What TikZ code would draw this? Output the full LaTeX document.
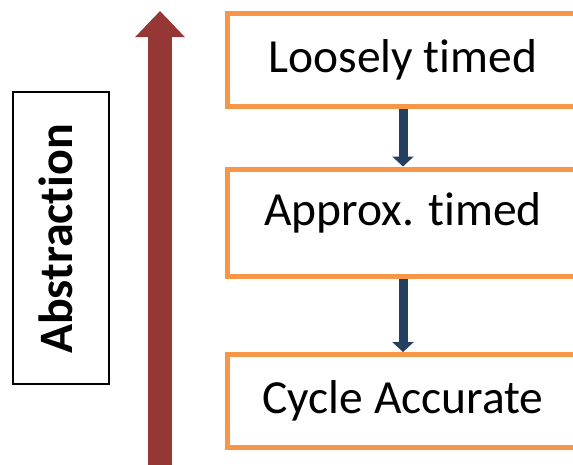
\documentclass[tikz,border=0pt]{standalone}
\usepackage{fontspec}
\setmainfont{Carlito}[Ligatures=NoCommon]
\usetikzlibrary{arrows.meta}

\definecolor{boxorange}{HTML}{F79646}
\definecolor{arrowred}{HTML}{953735}
\definecolor{arrowblue}{HTML}{243F60}

\tikzset{
    levelbox/.style={draw=boxorange, line width=5pt, minimum width=351pt, inner sep=0pt,
        font=\fontsize{47.5}{52}\selectfont},
    flow/.style={arrowblue, line width=9pt, -{Triangle[width=21pt, length=10pt]}},
}

\begin{document}
\begin{tikzpicture}[x=1pt, y=-1pt]
        \clip (0, 0) rectangle (573, 464);
        \fill [white] (0, 0) rectangle (573, 464);

        \node [levelbox, minimum height=93pt] (loose) at (403, 60) {Loosely timed};
        \node [levelbox, minimum height=107pt, text depth=26pt] (approx) at (403, 222.5) {Approx. timed};
        \node [levelbox, minimum height=93pt] (cycle) at (403, 401) {Cycle Accurate};

        \draw [flow] (loose) -- (approx);
        \draw [flow] (approx) -- (cycle);

        \coordinate (absbottom) at (160, 470);
        \coordinate (abstop) at (160, 11);
        \draw [arrowred, line width=24pt, -{Triangle[width=48pt, length=26pt]}] (absbottom) -- (abstop);

        \node [draw=black, line width=1.1pt, minimum width=96pt, minimum height=292pt, inner sep=0pt] (absbox) at (61, 238) {};
        \node [rotate=90, font=\fontsize{48}{52}\selectfont\bfseries] (abslabel) at (56, 239) {Abstraction};
    \end{tikzpicture}
\end{document}
